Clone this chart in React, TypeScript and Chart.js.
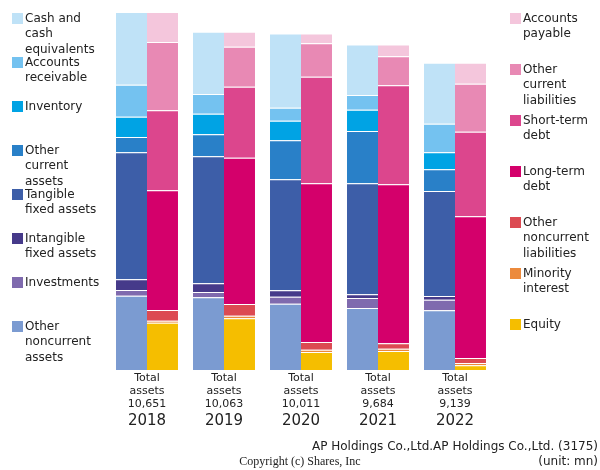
import React, { useEffect, useRef } from "react";
import { Chart, registerables } from "chart.js";

Chart.register(...registerables);

const years = ["2018", "2019", "2020", "2021", "2022"];
const totalAssets = [10651, 10063, 10011, 9684, 9139];

// Assets (bottom to top order listed separately below)
const cashAndEquivalents = [2163, 1851, 2207, 1502, 1812];
const accountsReceivable = [952, 586, 387, 437, 851];
const inventory = [604, 613, 583, 634, 506];
const otherCurrentAssets = [455, 655, 1160, 1556, 646];
const tangibleFixedAssets = [3778, 3778, 3302, 3302, 3124];
const intangibleFixedAssets = [318, 259, 190, 110, 110];
const investments = [170, 158, 208, 298, 315];
const otherNoncurrentAssets = [2211, 2163, 1974, 1845, 1775];

// Liabilities & equity
const accountsPayable = [892, 443, 292, 351, 622];
const otherCurrentLiabilities = [2033, 1190, 994, 863, 1428];
const shortTermDebt = [2380, 2112, 3171, 2945, 2517];
const longTermDebt = [3561, 4353, 4721, 4730, 4216];
const otherNoncurrentLiabilities = [317, 348, 229, 161, 149];
const minorityInterest = [60, 77, 68, 68, 68];
const equity = [1408, 1540, 536, 566, 139];

const leftLegend: { lines: string[]; color: string }[] = [
  { lines: ["Cash and", "cash", "equivalents"], color: "#bfe2f7" },
  { lines: ["Accounts", "receivable"], color: "#74c2f0" },
  { lines: ["Inventory"], color: "#00a3e4" },
  { lines: ["Other", "current", "assets"], color: "#2980c8" },
  { lines: ["Tangible", "fixed assets"], color: "#3d5ea8" },
  { lines: ["Intangible", "fixed assets"], color: "#463a8a" },
  { lines: ["Investments"], color: "#7f6aae" },
  { lines: ["Other", "noncurrent", "assets"], color: "#7b9bd1" },
];
const rightLegend: { lines: string[]; color: string }[] = [
  { lines: ["Accounts", "payable"], color: "#f4c6dc" },
  { lines: ["Other", "current", "liabilities"], color: "#e889b4" },
  { lines: ["Short-term", "debt"], color: "#dc468d" },
  { lines: ["Long-term", "debt"], color: "#d4006b" },
  { lines: ["Other", "noncurrent", "liabilities"], color: "#dc4a52" },
  { lines: ["Minority", "interest"], color: "#ec8a3c" },
  { lines: ["Equity"], color: "#f5be00" },
];

const FONT = "'DejaVu Sans', sans-serif";
const TEXT = "#222222";

export default function App() {
  const ref = useRef<HTMLCanvasElement | null>(null);

  useEffect(() => {
    document.body.style.margin = "0";
    const canvas = ref.current;
    if (!canvas) return;

    const mk = (label: string, data: number[], color: string, stack: string) => ({
      label,
      data,
      backgroundColor: color,
      borderColor: "rgba(255,255,255,0.22)",
      borderWidth: { top: 1, left: 0, right: 0, bottom: 0 },
      borderSkipped: false as const,
      stack,
    });

    const datasets = [
      mk("Other noncurrent assets", otherNoncurrentAssets, leftLegend[7].color, "a"),
      mk("Investments", investments, leftLegend[6].color, "a"),
      mk("Intangible fixed assets", intangibleFixedAssets, leftLegend[5].color, "a"),
      mk("Tangible fixed assets", tangibleFixedAssets, leftLegend[4].color, "a"),
      mk("Other current assets", otherCurrentAssets, leftLegend[3].color, "a"),
      mk("Inventory", inventory, leftLegend[2].color, "a"),
      mk("Accounts receivable", accountsReceivable, leftLegend[1].color, "a"),
      mk("Cash and cash equivalents", cashAndEquivalents, leftLegend[0].color, "a"),
      mk("Equity", equity, rightLegend[6].color, "l"),
      mk("Minority interest", minorityInterest, rightLegend[5].color, "l"),
      mk("Other noncurrent liabilities", otherNoncurrentLiabilities, rightLegend[4].color, "l"),
      mk("Long-term debt", longTermDebt, rightLegend[3].color, "l"),
      mk("Short-term debt", shortTermDebt, rightLegend[2].color, "l"),
      mk("Other current liabilities", otherCurrentLiabilities, rightLegend[1].color, "l"),
      mk("Accounts payable", accountsPayable, rightLegend[0].color, "l"),
    ];

    const yMax = Math.max(...totalAssets);

    const decor = {
      id: "decor",
      afterDraw(chart: any) {
        const ctx = chart.ctx as CanvasRenderingContext2D;
        const xs = chart.scales.x;
        ctx.save();
        ctx.fillStyle = TEXT;
        ctx.textBaseline = "middle";

        // Category labels
        ctx.textAlign = "center";
        years.forEach((yr, i) => {
          const cx = xs.getPixelForValue(i);
          ctx.font = `11px ${FONT}`;
          ctx.fillText("Total", cx, 378.5);
          ctx.fillText("assets", cx, 391.5);
          ctx.fillText(totalAssets[i].toLocaleString("en-US"), cx, 404.5);
          ctx.font = `15px ${FONT}`;
          ctx.fillText(yr, cx, 421);
        });

        // Legends
        ctx.textAlign = "left";
        ctx.font = `12px ${FONT}`;
        const drawLegend = (items: { lines: string[]; color: string }[], bx: number, tx: number, step: number) => {
          items.forEach((it, i) => {
            const top = 13 + step * i;
            ctx.fillStyle = it.color;
            ctx.fillRect(bx, top, 11, 11);
            ctx.fillStyle = TEXT;
            it.lines.forEach((ln, j) => {
              ctx.fillText(ln, tx, top + 6 + j * 15.3);
            });
          });
        };
        drawLegend(leftLegend, 12, 25, 44);
        drawLegend(rightLegend, 510, 523, 51);

        // Footer
        ctx.textAlign = "right";
        ctx.font = `12px ${FONT}`;
        ctx.fillText("AP Holdings Co.,Ltd.AP Holdings Co.,Ltd. (3175)", 598, 446.5);
        ctx.fillText("(unit: mn)", 598, 461.5);
        ctx.textAlign = "center";
        ctx.font = `12px 'Liberation Serif', 'Times New Roman', serif`;
        ctx.fillText("Copyright (c) Shares, Inc", 300, 461.5);
        ctx.restore();
      },
    };

    const chart = new Chart(canvas, {
      type: "bar",
      data: { labels: years, datasets: datasets as any },
      options: {
        animation: false,
        responsive: false,
        maintainAspectRatio: false,
        layout: { padding: { left: 108.5, right: 106.5, top: 12, bottom: 100 } },
        plugins: { legend: { display: false }, tooltip: { enabled: false } },
        datasets: { bar: { categoryPercentage: 0.805, barPercentage: 1 } },
        scales: {
          x: { stacked: true, display: false, grid: { display: false } },
          y: { stacked: true, display: false, min: 0, max: yMax, grid: { display: false } },
        },
      },
      plugins: [decor],
    });

    return () => chart.destroy();
  }, []);

  return (
    <div style={{ width: 600, height: 470, position: "relative", background: "#fff" }}>
      <canvas ref={ref} width={600} height={470} style={{ display: "block", width: 600, height: 470 }} />
    </div>
  );
}
